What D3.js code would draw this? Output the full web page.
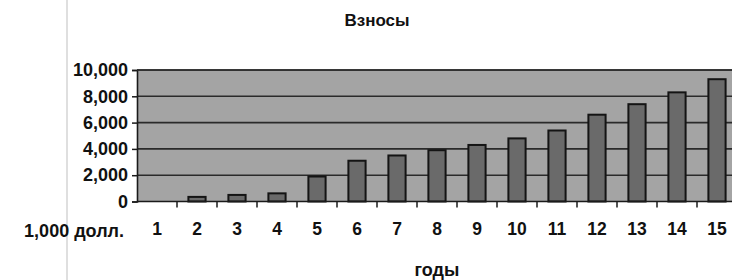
<!DOCTYPE html>
<html>
<head>
<meta charset="utf-8">
<script src="https://cdn.jsdelivr.net/npm/d3@7"></script>
<style>
  body { margin: 0; background: #fff; }
  svg { display: block; font-family: "Liberation Sans", Arial, sans-serif; font-weight: bold; }
</style>
</head>
<body>
<svg id="chart"></svg>
<script>
// data
var years = ["1", "2", "3", "4", "5", "6", "7", "8", "9", "10", "11", "12", "13", "14", "15"];
var contributions = [0, 350, 500, 620, 1900, 3100, 3500, 3900, 4300, 4800, 5400, 6600, 7400, 8300, 9300];
var yTicks = [0, 2000, 4000, 6000, 8000, 10000];

var svgWidth = 732, svgHeight = 280;
var plot = { left: 137, right: 737, top: 70, bottom: 201.5 };

var svg = d3.select("#chart")
    .attr("width", svgWidth)
    .attr("height", svgHeight);

// faint scan line on the left
svg.append("line")
    .attr("x1", 67).attr("x2", 67)
    .attr("y1", 0).attr("y2", svgHeight)
    .attr("stroke", "#d4d4d4")
    .attr("stroke-width", 1.5);

var x = d3.scaleBand()
    .domain(years)
    .range([plot.left, plot.right]);

var y = d3.scaleLinear()
    .domain([0, 10000])
    .range([plot.bottom, plot.top]);

// plot background
svg.append("rect")
    .attr("x", plot.left)
    .attr("y", plot.top)
    .attr("width", plot.right - plot.left)
    .attr("height", plot.bottom - plot.top)
    .attr("fill", "#a4a4a4");

// gridlines
svg.append("g")
    .selectAll("line")
    .data(yTicks.filter(function(d) { return d > 0; }))
    .enter()
    .append("line")
    .attr("x1", plot.left)
    .attr("x2", plot.right)
    .attr("y1", function(d) { return y(d); })
    .attr("y2", function(d) { return y(d); })
    .attr("stroke", "#2a2a2a")
    .attr("stroke-width", 1.6);

// bars
var barWidth = x.bandwidth() * 0.43;
svg.append("g")
    .selectAll("rect")
    .data(contributions)
    .enter()
    .append("rect")
    .attr("x", function(d, i) { return x(years[i]) + (x.bandwidth() - barWidth) / 2; })
    .attr("y", function(d) { return y(d); })
    .attr("width", barWidth)
    .attr("height", function(d) { return y(0) - y(d); })
    .attr("fill", function(d) { return d > 0 ? "#6a6a6a" : "none"; })
    .attr("stroke", function(d) { return d > 0 ? "#141414" : "none"; })
    .attr("stroke-width", 2);

// y axis
var yAxis = svg.append("g")
    .attr("transform", "translate(" + plot.left + ",0)")
    .call(d3.axisLeft(y).tickValues(yTicks).tickSize(5).tickPadding(4)
        .tickFormat(d3.format(",")));
yAxis.select(".domain").attr("stroke", "#1a1a1a").attr("stroke-width", 1.6);
yAxis.selectAll(".tick line").attr("stroke", "#1a1a1a").attr("stroke-width", 1.5);
yAxis.selectAll("text")
    .attr("font-size", 18)
    .attr("font-family", "Liberation Sans, Arial, sans-serif")
    .attr("font-weight", "bold")
    .attr("fill", "#111");

// x axis: ticks sit between categories
var xAxis = svg.append("g")
    .attr("transform", "translate(0," + plot.bottom + ")")
    .call(d3.axisBottom(x).tickSize(0).tickPadding(21));
xAxis.select(".domain").remove();
xAxis.selectAll("text")
    .attr("font-size", 17.5)
    .attr("font-family", "Liberation Sans, Arial, sans-serif")
    .attr("font-weight", "bold")
    .attr("fill", "#111");

svg.append("line")
    .attr("x1", plot.left).attr("x2", plot.right)
    .attr("y1", plot.bottom).attr("y2", plot.bottom)
    .attr("stroke", "#1a1a1a")
    .attr("stroke-width", 1.6);

svg.append("line")
    .attr("x1", plot.left).attr("x2", plot.right)
    .attr("y1", plot.top).attr("y2", plot.top)
    .attr("stroke", "#2a2a2a")
    .attr("stroke-width", 1.6);

svg.append("g")
    .selectAll("line")
    .data(years.slice(1))
    .enter()
    .append("line")
    .attr("x1", function(d) { return x(d); })
    .attr("x2", function(d) { return x(d); })
    .attr("y1", plot.bottom)
    .attr("y2", plot.bottom + 6)
    .attr("stroke", "#1a1a1a")
    .attr("stroke-width", 1.5);

// title and axis titles
svg.append("text")
    .attr("x", 377)
    .attr("y", 26)
    .attr("text-anchor", "middle")
    .attr("font-size", 17)
    .attr("fill", "#111")
    .text("Взносы");

svg.append("text")
    .attr("x", 124)
    .attr("y", 237)
    .attr("text-anchor", "end")
    .attr("font-size", 18)
    .attr("fill", "#111")
    .text("1,000 долл.");

svg.append("text")
    .attr("x", 437)
    .attr("y", 276)
    .attr("text-anchor", "middle")
    .attr("font-size", 18)
    .attr("fill", "#111")
    .text("годы");
</script>
</body>
</html>
